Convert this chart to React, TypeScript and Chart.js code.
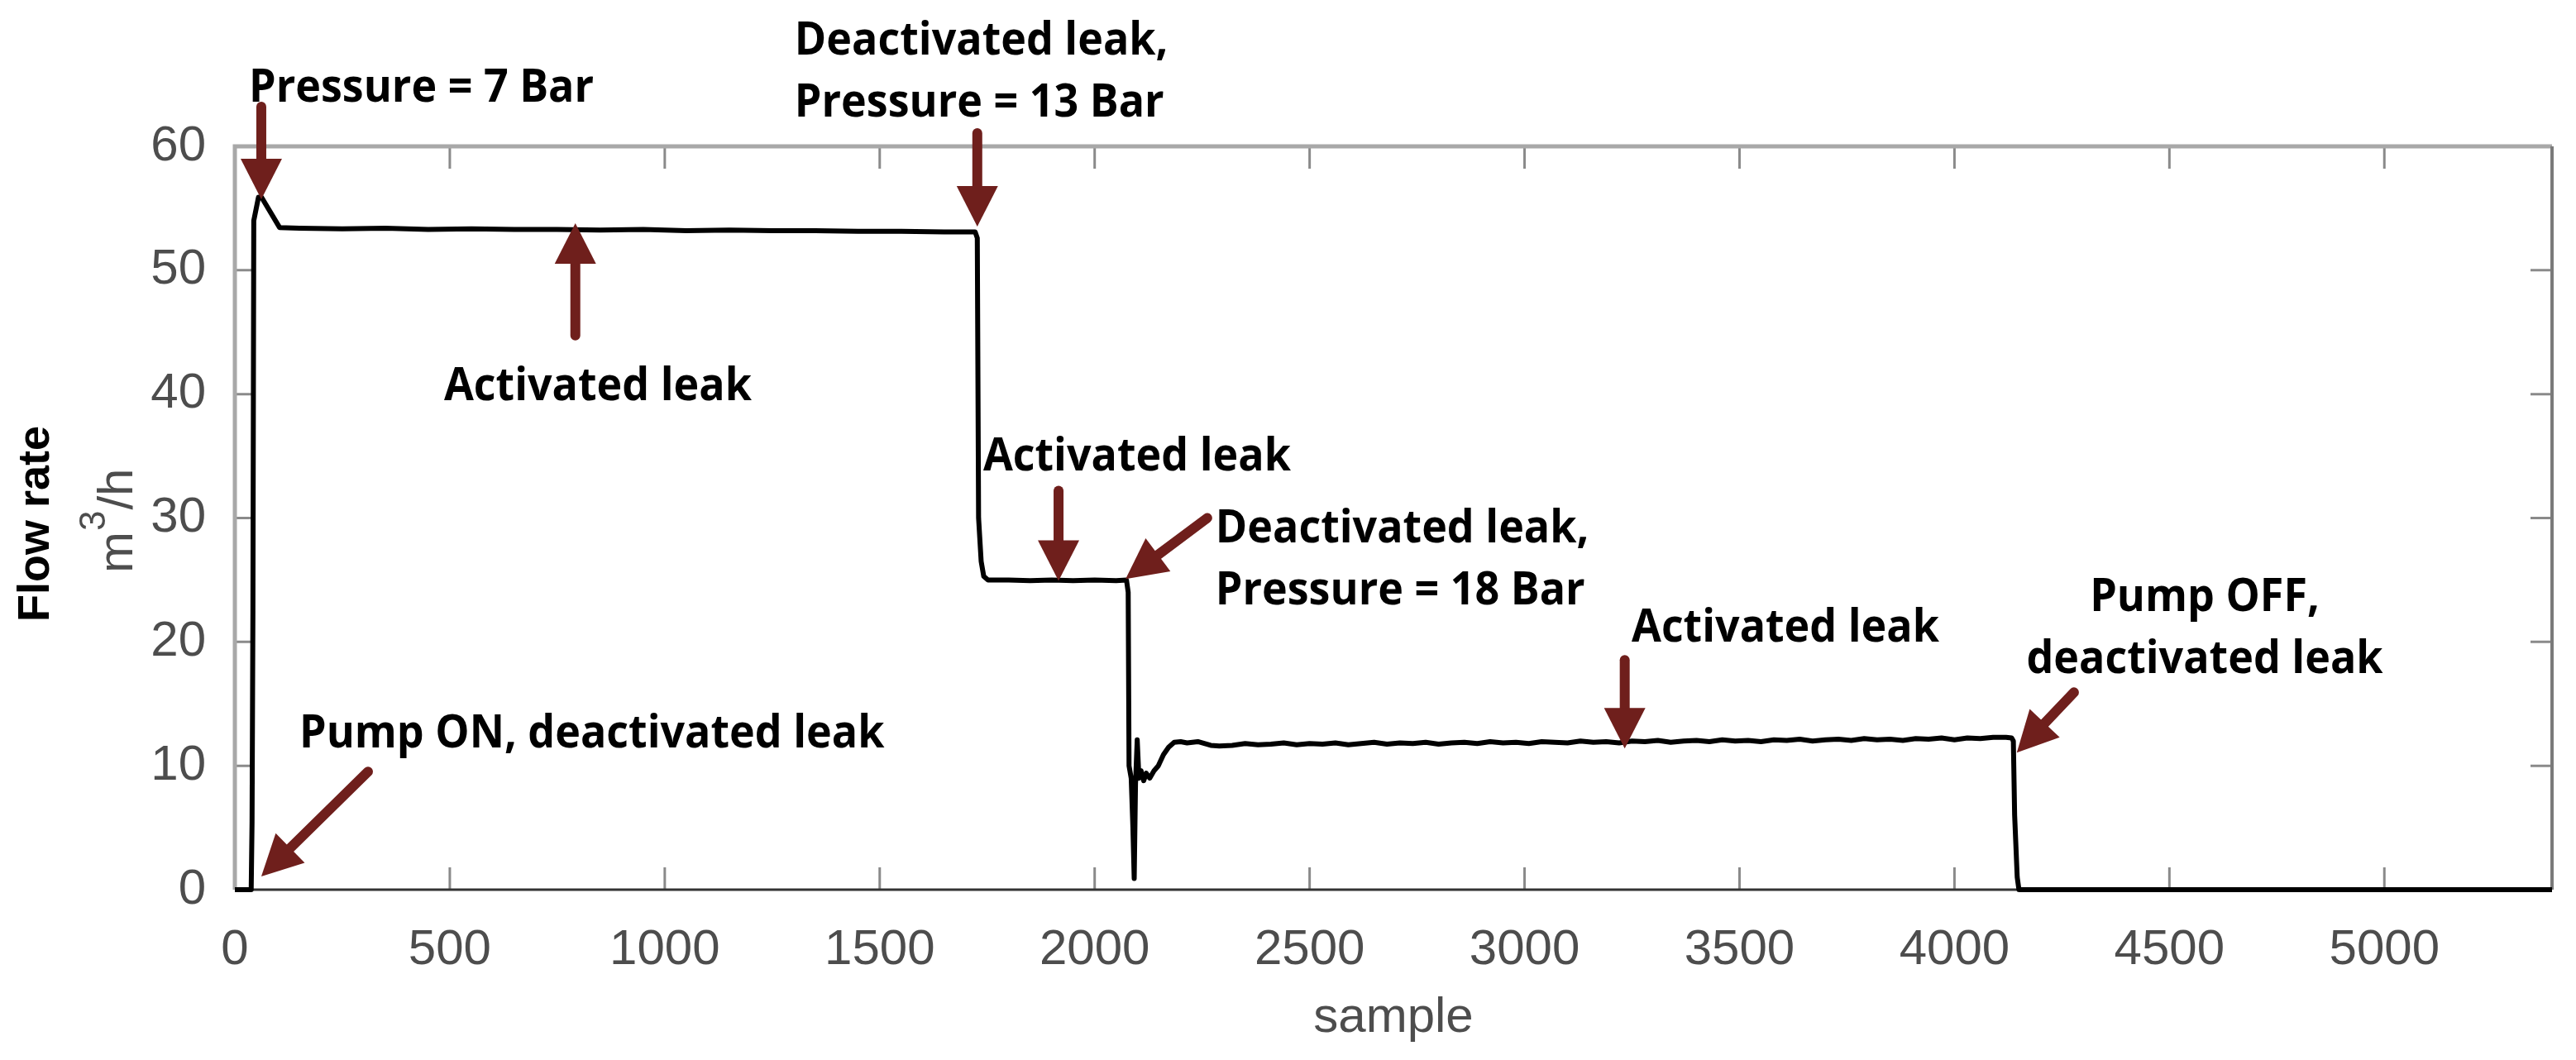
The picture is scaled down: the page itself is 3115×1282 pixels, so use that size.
import React, { useEffect, useRef } from "react";
import { Chart, registerables } from "chart.js";

Chart.register(...registerables);

// ---- data (sample index, flow rate m3/h) ----
const samples = [
  0, 38, 40, 42, 44, 55, 62, 104, 150, 250, 350, 450, 550, 650, 750, 850, 950,
  1050, 1150, 1250, 1350, 1450, 1550, 1650, 1722, 1727, 1730, 1736, 1742, 1752,
  1800, 1850, 1900, 1950, 2000, 2050, 2074, 2078, 2080, 2085, 2089, 2092, 2095,
  2099, 2103, 2108, 2114, 2120, 2128, 2138, 2148, 2160, 2172, 2185, 2200, 2215,
  2240, 2270, 2290, 2320, 2350, 2380, 2410, 2440, 2470, 2500, 2530, 2560, 2590,
  2620, 2650, 2680, 2710, 2740, 2770, 2800, 2830, 2860, 2890, 2920, 2950, 2980,
  3010, 3040, 3070, 3100, 3130, 3160, 3190, 3220, 3250, 3280, 3310, 3340, 3370,
  3400, 3430, 3460, 3490, 3520, 3550, 3580, 3610, 3640, 3670, 3700, 3730, 3760,
  3790, 3820, 3850, 3880, 3910, 3940, 3970, 4000, 4030, 4060, 4090, 4120, 4133,
  4137, 4140, 4146, 4150, 5390,
];
const flowRate = [
  0, 0, 5.5, 22.5, 54.0, 55.9, 55.9, 53.45, 53.4, 53.35, 53.4, 53.3, 53.35, 53.3,
  53.3, 53.25, 53.3, 53.2, 53.25, 53.2, 53.2, 53.15, 53.15, 53.1, 53.1, 52.6,
  30.0, 26.5, 25.3, 25.0, 25.0, 24.95, 25.0, 24.95, 25.0, 24.95, 25.0, 24.0,
  10.0, 9.0, 5.0, 0.9, 8.5, 12.1, 9.0, 9.6, 8.8, 9.4, 9.0, 9.6, 10.0, 10.9, 11.5,
  11.9, 11.95, 11.85, 11.95, 11.65, 11.6, 11.65, 11.8, 11.7, 11.75, 11.85, 11.7,
  11.8, 11.75, 11.85, 11.7, 11.8, 11.9, 11.75, 11.85, 11.8, 11.9, 11.75, 11.85,
  11.9, 11.8, 11.95, 11.85, 11.9, 11.8, 11.95, 11.9, 11.85, 12.0, 11.9, 11.95,
  11.85, 12.0, 11.95, 12.05, 11.9, 12.0, 12.05, 11.95, 12.1, 12.0, 12.05, 11.95,
  12.1, 12.05, 12.15, 12.0, 12.1, 12.15, 12.05, 12.2, 12.1, 12.15, 12.05, 12.2,
  12.15, 12.25, 12.1, 12.25, 12.2, 12.3, 12.3, 12.25, 12.0, 6.0, 1.0, 0, 0,
];

const xMin = 0;
const xMax = 5390;
const xTickValues = [0, 500, 1000, 1500, 2000, 2500, 3000, 3500, 4000, 4500, 5000];
const yMin = 0;
const yMax = 60;
const yTickValues = [0, 10, 20, 30, 40, 50, 60];

const xTitle = "sample";
const yTitleBold = "Flow rate";
const yUnitMain = "m";
const yUnitSup = "3";
const yUnitRest = "/h";

// annotation arrows (data coordinates: [sample, flow])
const arrowFrom = [
  [61.5, 63.2], [792, 44.73], [1727, 61.07], [1916, 32.2],
  [2262, 30.0], [3233, 18.53], [4278, 15.93], [309.7, 9.53],
];
const arrowTo = [
  [61.5, 55.73], [792, 53.8], [1727, 53.53], [1916, 24.93],
  [2072, 25.07], [3233, 11.4], [4145, 11.07], [61.5, 1.07],
];

// annotation texts (first-line baseline anchor in data coordinates)
const noteLines = [
  ["Pressure = 7 Bar"],
  ["Activated leak"],
  ["Deactivated leak,", "Pressure = 13 Bar"],
  ["Activated leak"],
  ["Deactivated leak,", "Pressure = 18 Bar"],
  ["Activated leak"],
  ["Pump OFF,", "deactivated leak"],
  ["Pump ON, deactivated leak"],
];
const noteAnchors = [
  [32.7, 63.6], [486.6, 39.53], [1302, 67.4], [1740.7, 33.87],
  [2281, 28.0], [3249, 20.0], [4582, 22.47], [150, 11.47],
];
const noteAlign = ["left", "left", "left", "left", "left", "left", "center", "left"];

const TICK_FONT = '"Liberation Sans", Arial, Helvetica, sans-serif';
const NOTE_FONT = '"Open Sans", "Noto Sans", sans-serif';
const GRAY = "#4d4d4d";
const ARROW = "#6f1f1c";

const framePlugin = {
  id: "frameAndNotes",
  beforeDatasetsDraw(chart: any) {
    const { ctx, chartArea: a, scales } = chart;
    ctx.save();
    ctx.lineCap = "butt";
    ctx.strokeStyle = "#8a8a8a";
    ctx.lineWidth = 3;
    for (const t of scales.x.ticks) {
      const px = scales.x.getPixelForValue(t.value);
      ctx.beginPath();
      ctx.moveTo(px, a.bottom);
      ctx.lineTo(px, a.bottom - 27);
      ctx.moveTo(px, a.top);
      ctx.lineTo(px, a.top + 27);
      ctx.stroke();
    }
    for (const t of scales.y.ticks) {
      const py = scales.y.getPixelForValue(t.value);
      ctx.beginPath();
      ctx.moveTo(a.left, py);
      ctx.lineTo(a.left + 22, py);
      ctx.moveTo(a.right, py);
      ctx.lineTo(a.right - 26, py);
      ctx.stroke();
    }
    ctx.strokeStyle = "#a8a8a8";
    ctx.lineWidth = 5;
    ctx.beginPath();
    ctx.moveTo(a.left, a.bottom);
    ctx.lineTo(a.left, a.top);
    ctx.lineTo(a.right, a.top);
    ctx.stroke();
    ctx.strokeStyle = "#7a7a7a";
    ctx.lineWidth = 4;
    ctx.beginPath();
    ctx.moveTo(a.right, a.top);
    ctx.lineTo(a.right, a.bottom);
    ctx.stroke();
    ctx.strokeStyle = "#333333";
    ctx.lineWidth = 3;
    ctx.beginPath();
    ctx.moveTo(a.left, a.bottom);
    ctx.lineTo(a.right, a.bottom);
    ctx.stroke();
    ctx.restore();
  },
  afterDraw(chart: any) {
    const { ctx, chartArea: a, scales } = chart;
    const X = (v: number) => scales.x.getPixelForValue(v);
    const Y = (v: number) => scales.y.getPixelForValue(v);
    ctx.save();

    ctx.fillStyle = GRAY;
    ctx.font = `60px ${TICK_FONT}`;
    ctx.textAlign = "center";
    ctx.textBaseline = "alphabetic";
    ctx.fillText(xTitle, (a.left + a.right) / 2, a.bottom + 172);

    ctx.save();
    ctx.translate(44, (a.top + a.bottom) / 2 + 7);
    ctx.rotate(-Math.PI / 2);
    ctx.fillStyle = "#000";
    ctx.font = `bold 54px ${TICK_FONT}`;
    ctx.textAlign = "center";
    ctx.textBaseline = "middle";
    ctx.fillText(yTitleBold, 0, 0);
    ctx.restore();

    ctx.save();
    ctx.translate(160, 693);
    ctx.rotate(-Math.PI / 2);
    ctx.fillStyle = GRAY;
    ctx.textAlign = "left";
    ctx.textBaseline = "alphabetic";
    ctx.font = `60px ${TICK_FONT}`;
    ctx.fillText(yUnitMain, 0, 0);
    let off = ctx.measureText(yUnitMain).width + 1;
    ctx.font = `44px ${TICK_FONT}`;
    ctx.fillText(yUnitSup, off, -33);
    off += ctx.measureText(yUnitSup).width + 1;
    ctx.font = `60px ${TICK_FONT}`;
    ctx.fillText(yUnitRest, off, 0);
    ctx.restore();

    ctx.fillStyle = ARROW;
    ctx.strokeStyle = ARROW;
    for (let i = 0; i < arrowFrom.length; i++) {
      const x0 = X(arrowFrom[i][0]);
      const y0 = Y(arrowFrom[i][1]);
      const x1 = X(arrowTo[i][0]);
      const y1 = Y(arrowTo[i][1]);
      const dx = x1 - x0;
      const dy = y1 - y0;
      const len = Math.hypot(dx, dy);
      const ux = dx / len;
      const uy = dy / len;
      const headL = 49;
      const headW = 25;
      const bx = x1 - ux * headL;
      const by = y1 - uy * headL;
      ctx.lineWidth = 12;
      ctx.lineCap = "round";
      ctx.beginPath();
      ctx.moveTo(x0, y0);
      ctx.lineTo(bx + ux * 4, by + uy * 4);
      ctx.stroke();
      ctx.beginPath();
      ctx.moveTo(x1, y1);
      ctx.lineTo(bx - uy * headW, by + ux * headW);
      ctx.lineTo(bx + uy * headW, by - ux * headW);
      ctx.closePath();
      ctx.fill();
    }

    ctx.fillStyle = "#000";
    ctx.font = `bold 55px ${NOTE_FONT}`;
    ctx.textBaseline = "alphabetic";
    const fit = 372 / ctx.measureText("Activated leak").width;
    for (let i = 0; i < noteLines.length; i++) {
      const px = X(noteAnchors[i][0]);
      const py = Y(noteAnchors[i][1]);
      noteLines[i].forEach((line, j) => {
        ctx.save();
        ctx.translate(px, py + j * 75);
        ctx.scale(fit, 1);
        ctx.textAlign = noteAlign[i] as CanvasTextAlign;
        ctx.fillText(line, 0, 0);
        ctx.restore();
      });
    }
    ctx.restore();
  },
};

export default function App() {
  const ref = useRef<HTMLCanvasElement>(null);
  useEffect(() => {
    const canvas = ref.current;
    if (!canvas) return;
    const points = samples.map((s, i) => ({ x: s, y: flowRate[i] }));
    const tickFont = { family: TICK_FONT, size: 60 };
    const chart = new Chart(canvas, {
      type: "scatter",
      data: {
        datasets: [
          {
            data: points,
            showLine: true,
            borderColor: "#000",
            backgroundColor: "#000",
            borderWidth: 6,
            pointRadius: 0,
            pointHoverRadius: 0,
            tension: 0,
            borderJoinStyle: "round",
            clip: 10,
          } as any,
        ],
      },
      options: {
        animation: false,
        responsive: false,
        devicePixelRatio: 1,
        events: [],
        layout: { padding: { left: 0, top: 177, right: 29, bottom: 0 } },
        plugins: { legend: { display: false }, tooltip: { enabled: false } },
        scales: {
          x: {
            type: "linear",
            min: xMin,
            max: xMax,
            grid: { display: false },
            border: { display: false },
            afterBuildTicks: (s: any) => {
              s.ticks = xTickValues.map((v) => ({ value: v }));
            },
            ticks: {
              padding: 29,
              color: GRAY,
              font: tickFont,
              maxRotation: 0,
              minRotation: 0,
              autoSkip: false,
              callback: (v: any) => String(v),
            },
            afterFit: (s: any) => {
              s.height = 206;
            },
          },
          y: {
            type: "linear",
            min: yMin,
            max: yMax,
            grid: { display: false },
            border: { display: false },
            afterBuildTicks: (s: any) => {
              s.ticks = yTickValues.map((v) => ({ value: v }));
            },
            ticks: {
              padding: 27,
              color: GRAY,
              font: tickFont,
              autoSkip: false,
              callback: (v: any) => String(v),
            },
            afterFit: (s: any) => {
              s.width = 284;
            },
          },
        },
      } as any,
      plugins: [framePlugin],
    });
    return () => chart.destroy();
  }, []);
  return (
    <div
      style={{
        position: "absolute",
        left: 0,
        top: 0,
        width: 3115,
        height: 1282,
        background: "#fff",
      }}
    >
      <canvas
        ref={ref}
        width={3115}
        height={1282}
        style={{ width: 3115, height: 1282, display: "block" }}
      />
    </div>
  );
}
